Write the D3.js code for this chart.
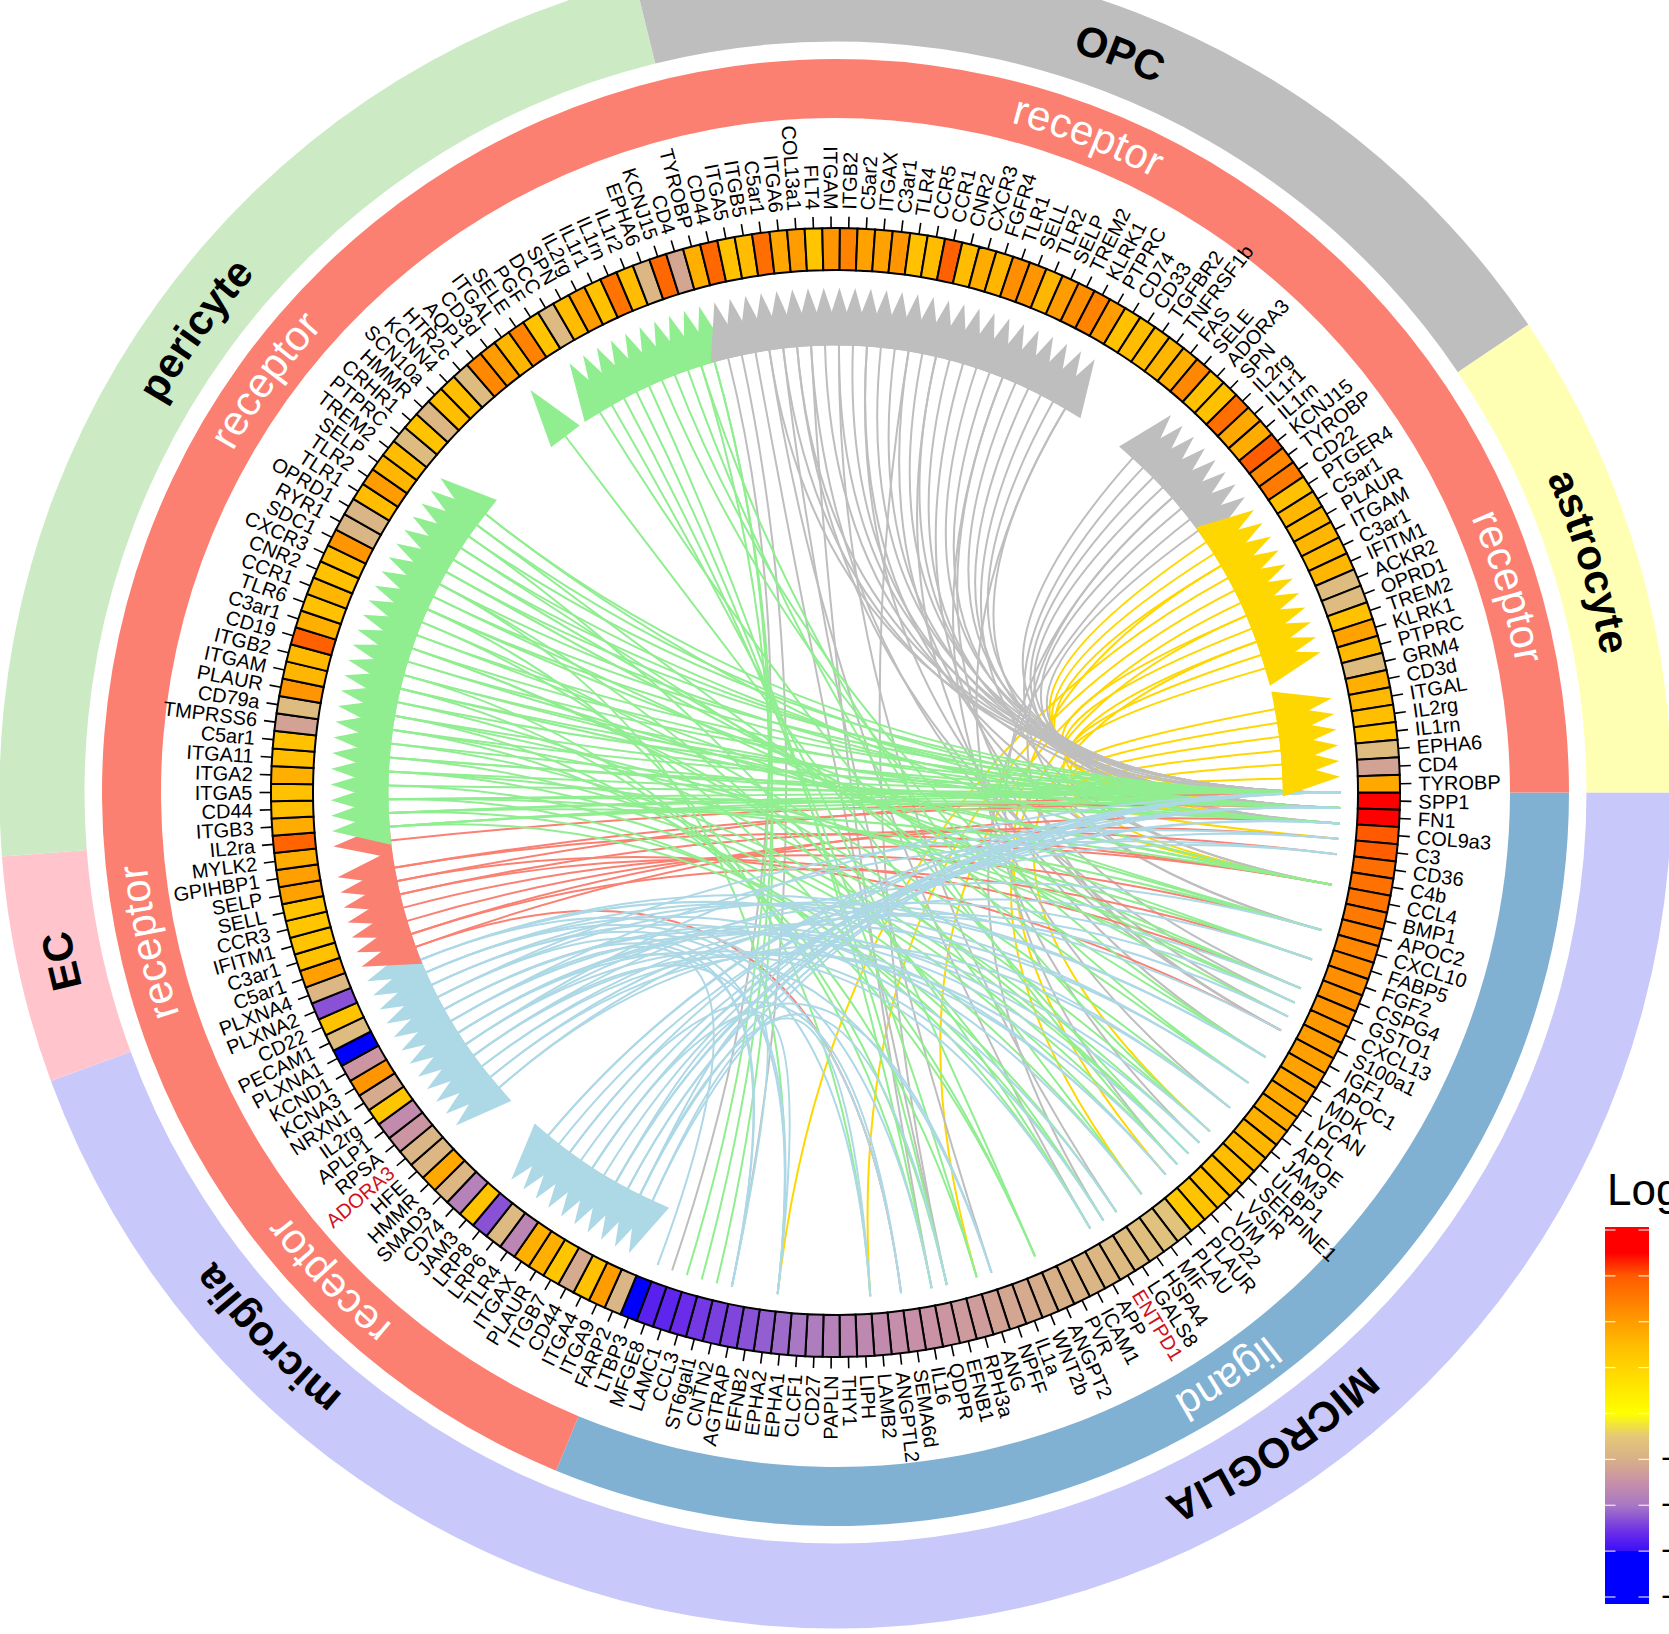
<!DOCTYPE html>
<html><head><meta charset="utf-8">
<script src="https://cdn.jsdelivr.net/npm/d3@7"></script>
<style>html,body{margin:0;padding:0;background:#fff;overflow:hidden}svg{display:block}text{font-family:"Liberation Sans",Arial,sans-serif}</style>
</head><body><svg id="c" width="1669" height="1634"></svg>
<script>
// ---------- data ----------
const ligandGenes=["SPP1","FN1","COL9a3","C3","CD36","C4b","CCL4","BMP1","APOC2","CXCL10","FABP5","FGF2","CSPG4","GSTO1","CXCL13","S100a1","IGF1","APOC1","MDK","VCAN","LPL","APOE","JAM3","ULBP1","SERPINE1","VSIR","VIM","CD22","PLAUR","PLAU","MIF","HSPA4","LGALS8","ENTPD1","APP","ICAM1","PVR","ANGPT2","WNT2b","IL1a","NPFF","ANG","RPH3a","EFNB1","QDPR","IL16","SEMA6d","ANGPTL2","LAMB2","LIPH","THY1","PAPLN","CD27","CLCF1","EPHA1","EPHA2","EFNB2","AGTRAP","CNTN2","ST6gal1","CCL3","LAMC1","MFGE8","LTBP3"];
const microgliaGenes=["FARP2","ITGA9","ITGA4","CD44","ITGB7","PLAUR","ITGAX","TLR4","LRP6","LRP8","JAM3","CD74","SMAD3","HMMR","HFE","ADORA3","RPSA","APLP1","IL2rg","NRXN1","KCNA3","KCND1","PLXNA1","PECAM1","CD22","PLXNA2","PLXNA4"];
const ecGenes=["C5ar1","C3ar1","IFITM1","CCR3","SELL","SELP","GPIHBP1","MYLK2","IL2ra"];
const pericyteGenes=["ITGB3","CD44","ITGA5","ITGA2","ITGA11","C5ar1","TMPRSS6","CD79a","PLAUR","ITGAM","ITGB2","CD19","C3ar1","TLR6","CCR1","CNR2","CXCR3","SDC1","RYR1","OPRD1","TLR1","TLR2","SELP","TREM2","PTPRC","CRHR1","HMMR","SCN10a","KCNN4","HTR2c","AQP1","CD3d","ITGAL","SELE","PGF","DCC","SPN","IL2rg","IL1r1","IL1rn","IL1r2","EPHA6","KCNJ15","CD4","TYROBP"];
const opcGenes=["CD44","ITGA5","ITGB5","C5ar1","ITGA6","COL13a1","FLT4","ITGAM","ITGB2","C5ar2","ITGAX","C3ar1","TLR4","CCR5","CCR1","CNR2","CXCR3","FGFR4","TLR1","SELL","TLR2","SELP","TREM2","KLRK1","PTPRC","CD74","CD33","TGFBR2","TNFRSF1b","FAS","SELE","ADORA3","SPN","IL2rg","IL1r1","IL1rn","KCNJ15","TYROBP","CD22"];
const astrocyteGenes=["PTGER4","C5ar1","PLAUR","ITGAM","C3ar1","IFITM1","ACKR2","OPRD1","TREM2","KLRK1","PTPRC","GRM4","CD3d","ITGAL","IL2rg","IL1rn","EPHA6","CD4","TYROBP"];
const redLabels=[15+64,33];

const ligandLogFC=[4,3.7,3,2.95,2.7,2.65,2.6,2.55,2.4,2.3,2.25,2.2,2.15,2.1,2.05,2,1.95,1.9,1.85,1.8,1.75,1.7,1.6,1.55,1.5,1.45,1.4,1.35,1.25,-0.6,-0.65,-0.7,-0.75,-0.8,-0.85,-0.9,-0.95,-1,-1.05,-1.1,-1.15,-1.2,-1.3,-1.35,-1.4,-1.45,-1.5,-1.55,-1.6,-1.65,-1.7,-1.8,-1.9,-2,-2.1,-2.2,-2.3,-2.4,-2.45,-2.5,-2.6,-2.7,-2.75,-3.4];
const microgliaLogFC=[-0.9,2,1.4,-1.1,1.3,1.7,1.7,-1.7,-0.8,-2.3,1.35,-1.8,-0.85,1.8,-0.85,-0.9,-1.4,-1.6,1.3,-1.1,2.1,-1.4,-3.3,-0.75,1.35,-2.3,-0.85];
const ecLogFC=[1.95,1.4,1.35,1.3,1.35,1.9,1.95,1.75,2.85];
const pericyteLogFC=[1.75,1.45,1.4,1.7,1.45,1.4,-1.2,-0.75,2.1,1.6,1.55,2.9,1.7,1.4,1.6,1.4,1.5,2.1,-0.9,-0.9,1.5,2,1.6,1.5,-0.75,1.35,-0.85,1.45,1.45,-0.75,2.3,2,1.6,2.4,1.35,-0.8,1.5,2,1.4,2.6,1.5,-0.85,2.8,-1.15,1.7];
const opcLogFC=[2.8,1.4,1.5,2.7,1.85,2,1.3,2.1,2.4,1.9,1.9,2.1,1.4,1.5,2.9,1.5,1.75,1.6,2.2,2.1,1.6,2,2.2,2.4,2,1.4,1.5,1.5,1.6,1.7,2.3,1.4,1.4,2.7,1.8,1.75,2.95,2.3,2.5];
const astrocyteLogFC=[1.4,1.6,1.55,1.6,1.55,1.6,-0.75,-0.75,1.4,1.9,1.55,-0.75,1.7,1.55,1.45,1.35,-0.75,-1.2,1.8];

// links: [ligand position, receptor position]
const astrocyteLinks=[[0,184],[1,185],[2,186],[28,186],[55,187],[49,188],[42,189],[30,190],[0,190],[1,191],[24,192],[6,192],[2,193],[0,194],[0,197],[1,198],[2,199],[3,200],[6,201],[1,202]];
const opcLinks=[[62,145],[58,146],[44,147],[34,148],[0,148],[41,149],[1,149],[14,150],[0,150],[45,151],[16,151],[2,152],[32,153],[0,153],[1,154],[15,155],[6,155],[0,156],[1,157],[44,158],[9,158],[0,159],[18,160],[1,160],[2,161],[13,162],[0,163],[1,164],[22,165],[16,165],[0,166],[1,167],[6,168],[0,169],[25,170],[2,170],[1,176],[9,177],[2,178],[0,179],[27,180],[16,180],[1,181],[33,182],[0,183]];
const ecLinks=[[2,91],[47,91],[3,92],[11,92],[6,93],[9,94],[4,95],[13,95],[0,96],[16,96],[1,97],[6,97],[1,99]];
const pericyteLinks=[[0,100],[1,100],[2,100],[33,100],[0,101],[1,101],[6,101],[32,101],[0,102],[2,102],[9,102],[34,102],[0,103],[30,103],[1,104],[11,104],[28,104],[0,105],[1,105],[27,105],[2,106],[26,106],[0,107],[13,107],[38,107],[1,108],[14,108],[42,108],[0,109],[25,109],[1,110],[6,110],[44,110],[2,111],[6,111],[45,111],[0,112],[9,112],[1,113],[26,113],[24,113],[0,114],[11,114],[38,115],[22,115],[1,116],[9,116],[49,116],[0,117],[13,117],[2,118],[33,118],[55,118],[0,119],[14,119],[1,120],[15,120],[2,121],[18,121],[0,122],[34,122],[1,123],[20,123],[6,124],[0,124],[30,132],[26,135],[38,136],[42,137],[44,138],[45,139],[20,140],[18,141],[27,142],[24,143],[59,143],[61,144],[60,144]];
const microgliaLinks=[[49,65],[0,65],[58,66],[1,66],[44,66],[0,67],[1,67],[55,68],[2,68],[0,68],[0,69],[41,70],[1,70],[2,70],[3,71],[47,72],[0,72],[4,73],[0,74],[1,74],[11,79],[22,79],[14,80],[27,80],[15,81],[28,81],[9,82],[34,82],[33,83],[13,83],[0,83],[41,84],[20,84],[24,84],[63,85],[4,85],[26,85],[58,86],[25,86],[28,86],[55,87],[3,87],[16,87],[49,88],[18,88],[32,88],[47,89],[20,89],[30,89],[45,90],[18,90],[22,90],[58,84],[55,82]];

const sectors=[
 {name:"MICROGLIA",tag:"ligand",genes:ligandGenes,fc:ligandLogFC,arrow:"#ADD8E6"},
 {name:"microglia",tag:"receptor",genes:microgliaGenes,fc:microgliaLogFC,arrow:"#ADD8E6"},
 {name:"EC",tag:"receptor",genes:ecGenes,fc:ecLogFC,arrow:"#FA8072"},
 {name:"pericyte",tag:"receptor",genes:pericyteGenes,fc:pericyteLogFC,arrow:"#90EE90"},
 {name:"OPC",tag:"receptor",genes:opcGenes,fc:opcLogFC,arrow:"#BEBEBE"},
 {name:"astrocyte",tag:"receptor",genes:astrocyteGenes,fc:astrocyteLogFC,arrow:"#FFD700"}
];
// ring bands: [first cell, end cell, colour]
const outerBands=[[0,91,"#C8C8FA"],[91,100,"#FFC4CC"],[100,145,"#CCEBC5"],[145,184,"#BEBEBE"],[184,203,"#FFFFB3"]];
const innerBands=[[0,64,"#80B1D3"],[64,203,"#FB8072"]];
const legendTicks=[4,3,2,1,0,-1,-2,-3,-4];
const colorStops=[[-4,"#0000ff"],[-3.001,"#0000ff"],[-2.999,"#3a10f8"],[-2.6,"#6a2ce8"],[-2,"#a878c4"],[-1.5,"#c890a8"],[-1,"#d8b088"],[-0.5,"#e4c878"],[0,"#ffff00"],[1,"#ffd400"],[1.5,"#ffbc00"],[2,"#ff9c00"],[3,"#ff5a00"],[3.5,"#ff0000"],[4,"#ff0000"]];

// ---------- scales ----------
const cx=835.5, cy=792.5;
const total=d3.sum(sectors,s=>s.genes.length);
const angle=d3.scaleLinear().domain([0,102.5,total]).range([0,180,360]);
const color=d3.scaleLinear().domain(colorStops.map(d=>d[0])).range(colorStops.map(d=>d[1])).clamp(true);
const rad=d=>d*Math.PI/180;
const pol=(deg,r)=>[cx+r*Math.cos(rad(deg)),cy+r*Math.sin(rad(deg))];
const arcDeg=(r0,r1,a0,a1)=>d3.arc()({innerRadius:r0,outerRadius:r1,startAngle:rad(a0+90),endAngle:rad(a1+90)});

const svg=d3.select("#c");
const defs=svg.append("defs");
const root=svg.append("g");

// ---------- sectors ----------
let off=0; sectors.forEach(s=>{s.start=off;off+=s.genes.length;s.end=off;});
const ringCenter=root.append("g").attr("transform",`translate(${cx},${cy})`);
outerBands.forEach(([a,b,c])=>ringCenter.append("path").attr("d",arcDeg(751,836,angle(a),angle(b))).attr("fill",c));
innerBands.forEach(([a,b,c])=>ringCenter.append("path").attr("d",arcDeg(674.5,733.5,angle(a),angle(b))).attr("fill",c));
function circlePath(id,r){
  defs.append("path").attr("id",id).attr("d",`M ${cx+r} ${cy} A ${r} ${r} 0 1 1 ${cx-r} ${cy} A ${r} ${r} 0 1 1 ${cx+r} ${cy}`);
}
circlePath("pOuter",778); circlePath("pInner",692.5);
sectors.forEach(s=>{
  const mid=(angle(s.start)+angle(s.end))/2;
  root.append("text").attr("font-size",42).attr("font-weight","bold").attr("fill","#000").attr("text-anchor","middle")
    .append("textPath").attr("href","#pOuter").attr("startOffset",(mid/360*100)+"%").text(s.name);
  root.append("text").attr("font-size",42).attr("fill","#fff").attr("text-anchor","middle")
    .append("textPath").attr("href","#pInner").attr("startOffset",(mid/360*100)+"%").text(s.tag);
});

// ---------- heat cells, ticks, labels ----------
const cells=sectors.flatMap(s=>s.genes.map((g,j)=>({gene:g,fc:s.fc[j],i:s.start+j,sector:s})));
const Ri=522.5,Ro=564.5;
ringCenter.selectAll("path.cell").data(cells).join("path").attr("class","cell")
  .attr("d",d=>arcDeg(Ri,Ro,angle(d.i),angle(d.i+1))).attr("fill",d=>color(d.fc)).attr("stroke","#000").attr("stroke-width",2);
root.selectAll("line.tick").data(cells).join("line").attr("class","tick")
  .each(function(d){const a=angle(d.i+.5),p=pol(a,Ro),q=pol(a,576);
    d3.select(this).attr("x1",p[0]).attr("y1",p[1]).attr("x2",q[0]).attr("y2",q[1]);})
  .attr("stroke","#000").attr("stroke-width",1.6);
root.selectAll("text.gene").data(cells).join("text").attr("class","gene")
  .attr("font-size",20).attr("dominant-baseline","central")
  .attr("fill",d=>redLabels.includes(d.i)?"#D0101C":"#000")
  .each(function(d){const a=angle(d.i+.5),p=pol(a,583),right=(a<90||a>270);
    d3.select(this).attr("text-anchor",right?"start":"end")
      .attr("transform",`translate(${p[0]},${p[1]}) rotate(${right?a:a+180})`);})
  .text(d=>d.gene);

// ---------- links ----------
const sectorOf=i=>sectors.find(s=>i>=s.start&&i<s.end);
const allLinks=[...astrocyteLinks,...opcLinks,...ecLinks,...pericyteLinks,...microgliaLinks];
const Rtip=505,Rbase=447,halfW=18;
root.append("g").selectAll("path").data(allLinks).join("path")
  .attr("d",([l,r])=>{const p=d3.path(),a=pol(angle(l),505),b=pol(angle(r),Rbase+1);
    p.moveTo(a[0],a[1]);p.quadraticCurveTo(cx,cy,b[0],b[1]);return p.toString();})
  .attr("fill","none").attr("stroke-width",2).attr("stroke",([l,r])=>sectorOf(r).arrow);

const receptors=[...new Set(allLinks.map(d=>d[1]))].sort(d3.ascending);
root.append("g").selectAll("path").data(receptors).join("path")
  .attr("d",r=>{const a=angle(r),t=pol(a,Rtip),b=pol(a,Rbase);
    const nx=-Math.sin(rad(a)),ny=Math.cos(rad(a));
    return d3.line()([t,[b[0]+nx*halfW,b[1]+ny*halfW],[b[0]-nx*halfW,b[1]-ny*halfW]])+"Z";})
  .attr("fill",r=>sectorOf(r).arrow);

// ---------- legend ----------
const lx=1605,lw=44,ly0=1227,ly1=1604;
const ly=d3.scaleLinear().domain([4,-4]).range([1230,1597]);
const grad=defs.append("linearGradient").attr("id","lg").attr("x1",0).attr("x2",0).attr("y1",0).attr("y2",1);
colorStops.slice().reverse().forEach(([v,c])=>grad.append("stop").attr("offset",(ly(v)-ly0)/(ly1-ly0)).attr("stop-color",c));
const lg=root.append("g");
lg.append("rect").attr("x",lx).attr("y",ly0).attr("width",lw).attr("height",ly1-ly0).attr("fill","url(#lg)");
legendTicks.forEach(v=>{
  [[lx,lx+10.5],[lx+lw-10.5,lx+lw]].forEach(([a,b])=>lg.append("line").attr("x1",a).attr("x2",b).attr("y1",ly(v)).attr("y2",ly(v)).attr("stroke","#fff").attr("stroke-width",1.2).attr("opacity",.85));
  lg.append("text").attr("x",1688).attr("y",ly(v)+8).attr("text-anchor","end").attr("font-size",30).text(v<0?"-"+(-v):String(v));
});
lg.append("text").attr("x",1607).attr("y",1205).attr("font-size",44).text("LogFC");
</script></body></html>
